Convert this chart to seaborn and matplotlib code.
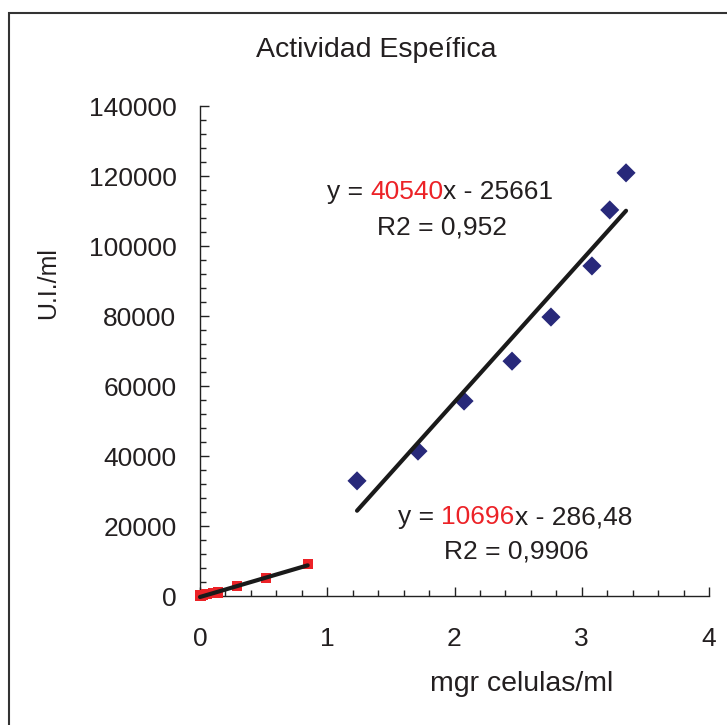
import numpy as np
import pandas as pd
import seaborn as sns
import matplotlib
matplotlib.use("Agg")
import matplotlib.pyplot as plt
from matplotlib.ticker import MultipleLocator
from matplotlib.patches import Rectangle

# ---- data ----
blue_x = [1.234, 1.713, 2.075, 2.452, 2.758, 3.080, 3.220, 3.348]
blue_y = [32900, 41400, 55700, 67100, 79700, 94300, 110300, 120900]
red_x = [0.005, 0.02, 0.05, 0.10, 0.14, 0.290, 0.519, 0.846]
red_y = [100, 300, 500, 800, 1000, 2860, 5230, 9140]

blue_slope, blue_intercept = 40540, -25661
red_slope, red_intercept = 10696, -286.48
blue_r2 = "0,952"
red_r2 = "0,9906"

x_ticks = [0, 1, 2, 3, 4]
y_ticks = [0, 20000, 40000, 60000, 80000, 100000, 120000, 140000]

title = "Actividad Espeífica"
x_label = "mgr celulas/ml"
y_label = "U.I./ml"

# ---- style ----
sns.set_style("white")
plt.rcParams["font.family"] = ["Liberation Sans", "DejaVu Sans"]
TXT = "#231f20"
BLUE = "#28297a"
RED = "#ec2227"
FS = 19

W, H = 727, 725
fig = plt.figure(figsize=(W / 100, H / 100), dpi=100)
ax = fig.add_axes([200 / W, 1 - 596 / H, 509 / W, 490 / H])

blue_df = pd.DataFrame({"x": blue_x, "y": blue_y})
red_df = pd.DataFrame({"x": red_x, "y": red_y})

sns.scatterplot(data=blue_df, x="x", y="y", marker="D", s=95, color=BLUE,
                edgecolor="none", ax=ax, clip_on=False, zorder=3)
sns.scatterplot(data=red_df, x="x", y="y", marker="s", s=55, color=RED,
                edgecolor="none", ax=ax, clip_on=False, zorder=3)

bx = np.array([min(blue_x), max(blue_x)])
rx = np.array([0.0, max(red_x)])
sns.lineplot(x=bx, y=blue_slope * bx + blue_intercept, color="#1a1a1a",
             lw=3.0, ax=ax, zorder=4)
sns.lineplot(x=rx, y=red_slope * rx + red_intercept, color="#1a1a1a",
             lw=3.0, ax=ax, zorder=4)
for l in ax.lines:
    l.set_clip_on(False)

ax.set_xlim(0, 4)
ax.set_ylim(0, 140000)
ax.set_xticks(x_ticks)
ax.set_yticks(y_ticks)
ax.xaxis.set_minor_locator(MultipleLocator(0.2))
ax.yaxis.set_minor_locator(MultipleLocator(4000))
ax.set_xticklabels([str(v) for v in x_ticks])
ax.set_yticklabels([str(v) for v in y_ticks])
ax.set_xlabel("")
ax.set_ylabel("")

for s in ["top", "right"]:
    ax.spines[s].set_visible(False)
for s in ["left", "bottom"]:
    ax.spines[s].set_color("#222222")
    ax.spines[s].set_linewidth(1.0)

ax.tick_params(axis="both", which="both", bottom=True, left=True,
               top=False, right=False)
ax.tick_params(axis="both", which="major", direction="in", length=6.5,
               width=1.0, color="#222222", labelsize=FS, labelcolor=TXT)
ax.tick_params(axis="both", which="minor", direction="in", length=4.5,
               width=1.0, color="#222222")
ax.tick_params(axis="x", which="major", pad=22)
ax.tick_params(axis="y", which="major", pad=17)

# titles / labels
fig.text(376 / W, 1 - 50 / H, title, ha="center", va="center",
         fontsize=20.5, color=TXT)
fig.text(522 / W, 1 - 684 / H, x_label, ha="center", va="center",
         fontsize=20.5, color=TXT)
fig.text(48 / W, 1 - 283 / H, y_label, ha="center", va="center",
         rotation=90, fontsize=18, color=TXT)


def equation(x0, ycen, slope, rest, r2, r2cen_x, r2_y):
    t1 = fig.text(x0 / W, 1 - ycen / H, "y = ", ha="left", va="center",
                  fontsize=FS, color=TXT)
    t2 = fig.text(0, 0, str(slope), fontsize=FS, color=RED)
    t3 = fig.text(0, 0, rest, fontsize=FS, color=TXT)
    fig.canvas.draw()
    r = fig.canvas.get_renderer()
    bb1 = t1.get_window_extent(r)
    t2.set_position((bb1.x1 / W, bb1.y0 / H))
    t2.set_va("bottom")
    fig.canvas.draw()
    bb2 = t2.get_window_extent(r)
    t3.set_position((bb2.x1 / W, bb2.y0 / H))
    t3.set_va("bottom")
    fig.text(r2cen_x / W, 1 - r2_y / H, "R2 = " + r2, ha="center",
             va="center", fontsize=FS, color=TXT)


equation(327, 192, blue_slope, "x - 25661", blue_r2, 442, 228)
equation(398, 517, red_slope, "x - 286,48", red_r2, 516, 551)

# outer frame (cut off at right and bottom like the reference)
fig.patches.append(Rectangle((8.5 / W, -0.2), 2.0, 1.2 - 12.5 / H,
                             transform=fig.transFigure, fill=False,
                             edgecolor="#333333", lw=1.5))

fig.savefig("out.png", dpi=100, facecolor="white")
